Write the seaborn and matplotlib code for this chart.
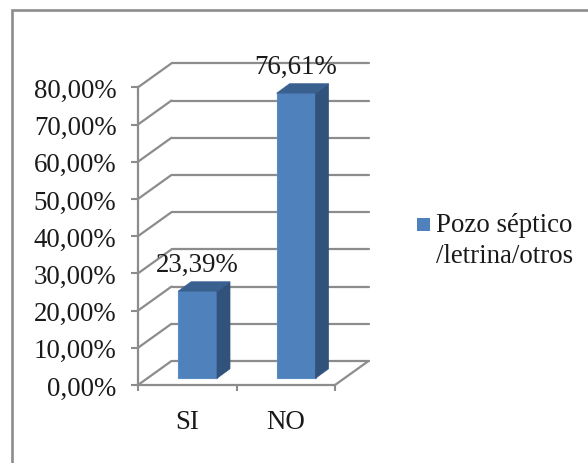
import matplotlib
matplotlib.use("Agg")
import matplotlib.pyplot as plt
import seaborn as sns
import pandas as pd
from matplotlib.patches import Polygon, Rectangle
from matplotlib.transforms import Affine2D
from matplotlib.lines import Line2D

categories = ["SI", "NO"]
values = [23.39, 76.61]
value_labels = ["23,39%", "76,61%"]
y_ticks = [0, 10, 20, 30, 40, 50, 60, 70, 80]
y_tick_labels = ["0,00%", "10,00%", "20,00%", "30,00%", "40,00%", "50,00%", "60,00%", "70,00%", "80,00%"]
series_name = "Pozo séptico\n/letrina/otros"

W, H = 588, 464
GREY = "#8c8c8c"
FRONT, SIDE, TOP = "#4f81bd", "#31527a", "#3a6090"
FS = 19.4
sns.set_style("white")
plt.rcParams["font.family"] = ["Liberation Serif", "DejaVu Serif"]

fig = plt.figure(figsize=(W / 100, H / 100), dpi=100, facecolor="white")
L, R, T, B = 138, 335, 88.3, 386
ax = fig.add_axes([L / W, 1 - B / H, (R - L) / W, (B - T) / H])

df = pd.DataFrame({"cat": categories, "val": values})
sns.barplot(data=df, x="cat", y="val", color=FRONT, saturation=1, width=0.395,
            order=categories, ax=ax, zorder=3, linewidth=0)
ax.set_xlim(-0.5, 1.5)
ax.set_ylim(0, 80)
ax.set_xlabel("")
ax.set_ylabel("")
ax.set_yticks(y_ticks, y_tick_labels, fontsize=FS, color="#1a1a1a")
ax.set_xticks([0, 1], categories, fontsize=FS, color="#1a1a1a")
ax.set_xticks([-0.5, 0.5, 1.5], minor=True)

ax.tick_params(axis="x", which="major", length=0, pad=17)
ax.tick_params(axis="x", which="minor", length=4, width=1.5, color=GREY, direction="out", bottom=True)
ax.tick_params(axis="y", length=5, width=1.5, color=GREY, direction="out", left=True, pad=10.5)
for s in ("top", "right"):
    ax.spines[s].set_visible(False)
for s in ("left", "bottom"):
    ax.spines[s].set_color(GREY)
    ax.spines[s].set_linewidth(1.6)
ax.patch.set_alpha(0)

# pixel depth of the pseudo-3D box (matplotlib y grows upward)
DX, DY = 33.5, 24
def shift(dx, dy):
    return ax.transData + Affine2D().translate(dx, dy)

wall = shift(DX, DY)
for v in y_ticks:
    ax.plot([-0.5, 1.5], [v, v], transform=wall, color=GREY, lw=1.6, clip_on=False, zorder=1)
    x0, y0 = ax.transData.transform((-0.5, v))
    fig.add_artist(Line2D([x0, x0 + DX], [y0, y0 + DY], color=GREY, lw=1.6,
                          transform=None, zorder=1))
x1, y1 = ax.transData.transform((1.5, 0))
fig.add_artist(Line2D([x1, x1 + DX], [y1, y1 + DY], color=GREY, lw=1.6, transform=None, zorder=1))

# bars stand in the middle of the floor: move faces, add side and top
BX, BY = 10.3, 6.7
SX, SY = 13, 9.5
tr = shift(BX, BY)
for bar, lab in zip(ax.patches, value_labels):
    bar.set_transform(tr)
    bar.set_clip_on(False)
    bar.set_edgecolor("#5c8cc6")
    bar.set_linewidth(0.8)
    (xa, ya), (xb, yb) = ax.transData.transform(
        [(bar.get_x(), bar.get_y()), (bar.get_x() + bar.get_width(), bar.get_height())])
    xa, xb, ya, yb = xa + BX, xb + BX, ya + BY, yb + BY
    fig.add_artist(Polygon([(xb, ya), (xb + SX, ya + SY), (xb + SX, yb + SY), (xb, yb)],
                           closed=True, fc=SIDE, ec=SIDE, lw=0.5, transform=None, zorder=4))
    fig.add_artist(Polygon([(xa, yb), (xa + SX, yb + SY), (xb + SX, yb + SY), (xb, yb)],
                           closed=True, fc=TOP, ec=TOP, lw=0.5, transform=None, zorder=4))
    fig.text((xa + xb) / 2 + 0, yb + 14, lab, transform=None, ha="center", va="bottom",
             fontsize=FS, color="#1a1a1a", zorder=6)

# chart frame: only top and left edges are in the crop
fig.add_artist(Line2D([11.5, 11.5, W], [0, H - 10.5, H - 10.5], color=GREY, lw=1.9,
                      transform=None, solid_joinstyle="miter"))

# legend
fig.add_artist(Rectangle((417, H - 232), 13, 13, fc=FRONT, ec="none", transform=None))
fig.text(436, H - 225.5, series_name.split("\n")[0], transform=None, ha="left", va="center",
         fontsize=FS, color="#1a1a1a")
fig.text(436, H - 257, series_name.split("\n")[1], transform=None, ha="left", va="center",
         fontsize=FS, color="#1a1a1a")

fig.savefig("out.png", dpi=100, facecolor="white")
